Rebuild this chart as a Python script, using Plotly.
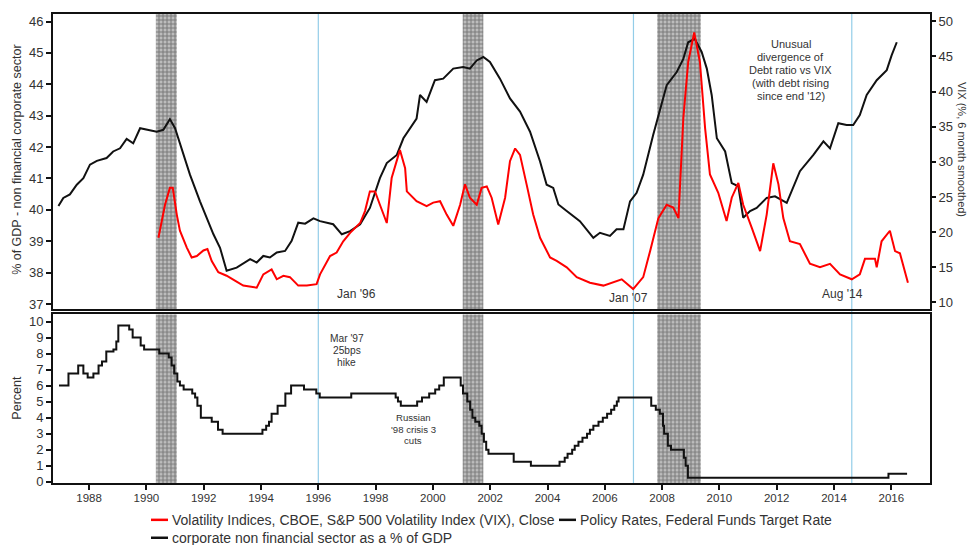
import plotly.graph_objects as go

# ---------------- data ----------------
# Debt of the corporate non financial sector, % of GDP (left axis, top panel)
debt_year = [1986.93, 1987.10, 1987.33, 1987.57, 1987.80, 1988.03, 1988.27, 1988.61, 1988.84, 1989.08,
             1989.31, 1989.54, 1989.78, 1990.01, 1990.36, 1990.59, 1990.82, 1991.00, 1991.29, 1991.52,
             1991.87, 1992.34, 1992.57, 1992.80, 1993.15, 1993.62, 1993.85, 1994.08, 1994.31, 1994.55,
             1994.84, 1995.07, 1995.30, 1995.54, 1995.83, 1996.06, 1996.52, 1996.82, 1997.11, 1997.46,
             1997.80, 1998.15, 1998.39, 1998.74, 1998.97, 1999.20, 1999.43, 1999.55, 1999.78, 2000.07,
             2000.36, 2000.71, 2001.06, 2001.29, 2001.53, 2001.76, 2001.99, 2002.34, 2002.69, 2003.04,
             2003.39, 2003.74, 2003.97, 2004.20, 2004.38, 2004.67, 2005.13, 2005.60, 2005.83, 2006.18,
             2006.41, 2006.65, 2006.88, 2007.11, 2007.34, 2007.69, 2007.92, 2008.16, 2008.51, 2008.74,
             2008.91, 2009.14, 2009.38, 2009.56, 2009.73, 2009.91, 2010.20, 2010.43, 2010.66, 2010.83,
             2011.07, 2011.30, 2011.65, 2011.94, 2012.35, 2012.81, 2013.28, 2013.63, 2013.86, 2014.15,
             2014.44, 2014.67, 2014.90, 2015.14, 2015.49, 2015.84, 2016.01, 2016.19]
debt_pct = [40.12, 40.38, 40.49, 40.80, 41.01, 41.44, 41.56, 41.65, 41.86, 41.96,
            42.26, 42.12, 42.60, 42.55, 42.49, 42.55, 42.89, 42.60, 41.75, 41.12,
            40.27, 39.22, 38.79, 38.06, 38.16, 38.43, 38.32, 38.53, 38.48, 38.64,
            38.69, 39.01, 39.59, 39.56, 39.73, 39.64, 39.54, 39.22, 39.32, 39.54,
            40.06, 41.01, 41.49, 41.75, 42.28, 42.60, 42.91, 43.66, 43.44, 44.13,
            44.18, 44.50, 44.55, 44.50, 44.76, 44.87, 44.71, 44.18, 43.55, 43.13,
            42.49, 41.54, 40.80, 40.70, 40.17, 39.96, 39.64, 39.11, 39.27, 39.17,
            39.38, 39.38, 40.27, 40.54, 41.12, 42.39, 43.13, 43.97, 44.39, 44.81,
            45.34, 45.45, 45.03, 44.50, 43.66, 42.28, 41.86, 40.85, 40.75, 39.75,
            39.96, 40.06, 40.38, 40.43, 40.22, 41.23, 41.75, 42.18, 41.96, 42.76,
            42.70, 42.70, 43.02, 43.66, 44.13, 44.45, 44.92, 45.34]

# VIX, 6 month smoothed (right axis, top panel)
vix_year = [1990.42, 1990.65, 1990.82, 1990.92, 1991.06, 1991.17, 1991.41, 1991.58, 1991.76, 1991.99,
            1992.13, 1992.28, 1992.51, 1992.80, 1993.09, 1993.38, 1993.85, 1994.08, 1994.37, 1994.55,
            1994.78, 1995.01, 1995.30, 1995.60, 1995.94, 1996.06, 1996.41, 1996.64, 1996.87, 1997.11,
            1997.46, 1997.63, 1997.80, 1997.98, 1998.15, 1998.39, 1998.56, 1998.85, 1999.03, 1999.09,
            1999.43, 1999.78, 2000.01, 2000.25, 2000.48, 2000.71, 2000.95, 2001.12, 2001.29, 2001.53,
            2001.70, 2001.88, 2002.05, 2002.28, 2002.52, 2002.69, 2002.87, 2003.04, 2003.27, 2003.50,
            2003.74, 2004.09, 2004.32, 2004.67, 2005.02, 2005.48, 2005.95, 2006.24, 2006.59, 2006.99,
            2007.34, 2007.58, 2007.87, 2008.16, 2008.39, 2008.57, 2008.74, 2008.91, 2009.12, 2009.32,
            2009.50, 2009.67, 2009.96, 2010.25, 2010.43, 2010.66, 2010.83, 2011.13, 2011.42, 2011.65,
            2011.88, 2012.06, 2012.23, 2012.46, 2012.81, 2013.16, 2013.51, 2013.86, 2014.21, 2014.62,
            2014.90, 2015.08, 2015.43, 2015.49, 2015.66, 2015.95, 2016.13, 2016.30, 2016.42, 2016.58]
vix_level = [19.2, 23.9, 26.3, 26.3, 22.5, 20.2, 17.8, 16.4, 16.6, 17.4,
             17.6, 15.9, 14.3, 13.8, 13.1, 12.4, 12.1, 14.0, 14.7, 13.3,
             13.8, 13.6, 12.4, 12.4, 12.6, 14.0, 16.6, 17.1, 18.7, 19.9,
             21.3, 23.0, 25.8, 25.8, 23.9, 21.3, 27.7, 31.7, 29.1, 25.8,
             24.4, 23.7, 24.2, 24.4, 22.5, 20.9, 23.9, 26.8, 24.9, 23.9,
             26.3, 26.5, 24.9, 21.1, 24.9, 30.1, 31.9, 31.0, 26.8, 22.5,
             19.2, 16.4, 15.9, 15.0, 13.6, 12.8, 12.4, 12.8, 13.3, 11.9,
             13.6, 17.3, 22.0, 23.9, 23.5, 22.0, 36.2, 44.2, 48.4, 44.2,
             34.8, 28.2, 25.6, 21.6, 24.9, 27.0, 23.9, 20.6, 17.3, 22.5,
             29.8, 26.8, 22.0, 18.7, 18.3, 15.5, 15.0, 15.5, 14.0, 13.3,
             14.0, 16.2, 16.2, 15.0, 18.7, 20.2, 17.3, 17.0, 15.2, 12.8]

# Federal Funds target rate, change dates and new levels (bottom panel)
ff_year = [1986.95, 1987.28, 1987.62, 1987.80, 1987.95, 1988.15, 1988.33, 1988.45, 1988.60, 1988.85,
           1988.95, 1989.02, 1989.40, 1989.52, 1989.80, 1989.92, 1990.45, 1990.78, 1990.88, 1990.97,
           1991.08, 1991.17, 1991.30, 1991.60, 1991.70, 1991.78, 1991.90, 1992.28, 1992.50, 1992.66,
           1994.05, 1994.18, 1994.28, 1994.37, 1994.58, 1994.85, 1995.05, 1995.50, 1995.93, 1996.05,
           1997.15, 1998.70, 1998.78, 1998.88, 1999.45, 1999.62, 1999.87, 2000.08, 2000.22, 2000.38,
           2000.97, 2001.05, 2001.20, 2001.30, 2001.38, 2001.48, 2001.62, 2001.70, 2001.78, 2001.86,
           2001.94, 2002.82, 2003.42, 2004.42, 2004.60, 2004.70, 2004.86, 2004.95, 2005.08, 2005.22,
           2005.38, 2005.48, 2005.60, 2005.78, 2005.93, 2006.08, 2006.22, 2006.33, 2006.42, 2006.48,
           2007.62, 2007.78, 2007.92, 2008.03, 2008.07, 2008.20, 2008.31, 2008.76, 2008.82, 2008.90,
           2015.90, 2016.55]
ff_rate = [6.00, 6.75, 7.25, 6.75, 6.50, 6.75, 7.25, 7.50, 8.13, 8.25,
           8.75, 9.75, 9.50, 9.00, 8.50, 8.25, 8.00, 7.75, 7.25, 6.75,
           6.25, 6.00, 5.75, 5.50, 5.25, 4.75, 4.00, 3.75, 3.25, 3.00,
           3.25, 3.50, 3.75, 4.25, 4.75, 5.50, 6.00, 5.75, 5.50, 5.25,
           5.50, 5.25, 5.00, 4.75, 5.00, 5.25, 5.50, 5.75, 6.00, 6.50,
           6.00, 5.50, 5.00, 4.50, 4.00, 3.75, 3.50, 3.00, 2.50, 2.00,
           1.75, 1.25, 1.00, 1.25, 1.50, 1.75, 2.00, 2.25, 2.50, 2.75,
           3.00, 3.25, 3.50, 3.75, 4.00, 4.25, 4.50, 4.75, 5.00, 5.25,
           4.75, 4.50, 4.25, 3.50, 3.00, 2.25, 2.00, 1.50, 1.00, 0.25,
           0.50, 0.50]

# Recession periods (shaded) and marked dates (blue rules)
rec_start = [1990.33, 2001.04, 2007.83]
rec_end = [1991.06, 2001.76, 2009.35]
event_year = [1996.0, 2007.0, 2014.62]
event_label = ["Jan '96", "Jan '07", "Aug '14"]
event_label_x = [1997.32, 2006.81, 2014.31]
event_label_y = [0.403, 0.395, 0.403]

x_ticks = list(range(1988, 2017, 2))
debt_ticks = list(range(37, 47))
vix_ticks = list(range(10, 51, 5))
ff_ticks = list(range(0, 11))

X_RANGE = [1986.74, 2017.35]
DEBT_RANGE = [36.84, 46.24]
VIX_RANGE = [9.07, 51.03]
FF_RANGE = [-0.08, 10.46]

FONT = "Liberation Sans, Arial, sans-serif"
TXT = "#333333"
RED = "#ff0000"

# plot-area geometry in pixels, used to place notes and the legend
W, PL, PB, PH = 877.0, 53.0, 483.0, 471.0


def px(xp):
    return (xp - PL) / W


def py(yp):
    return (PB - yp) / PH


fig = go.Figure()

# hatched recession bands, one polygon per panel
band_pattern = dict(shape="+", size=4, solidity=0.45, fgcolor="#3a3a3a", bgcolor="#bcbcbc")
for s, e in zip(rec_start, rec_end):
    for xa, ya, (lo, hi) in (("x2", "y", DEBT_RANGE), ("x", "y3", FF_RANGE)):
        fig.add_trace(go.Scatter(
            x=[s, s, e, e, s], y=[lo, hi, hi, lo, lo], xaxis=xa, yaxis=ya,
            mode="lines", fill="toself", fillpattern=band_pattern,
            fillcolor="rgba(0,0,0,0)", line=dict(width=0), hoverinfo="skip", showlegend=False))

fig.add_trace(go.Scatter(
    x=debt_year, y=debt_pct, xaxis="x2", yaxis="y", mode="lines",
    line=dict(color="#111111", width=2), name="corporate non financial sector as a % of GDP",
    showlegend=False))
fig.add_trace(go.Scatter(
    x=vix_year, y=vix_level, xaxis="x2", yaxis="y2", mode="lines",
    line=dict(color=RED, width=2), name="Volatility Indices, CBOE, S&P 500 Volatility Index (VIX), Close",
    showlegend=False))
fig.add_trace(go.Scatter(
    x=ff_year, y=ff_rate, xaxis="x", yaxis="y3", mode="lines", line_shape="hv",
    line=dict(color="#111111", width=2), name="Policy Rates, Federal Funds Target Rate",
    showlegend=False))

shapes = []
for ev in event_year:
    shapes.append(dict(type="line", xref="x", yref="paper", x0=ev, x1=ev, y0=0, y1=1,
                       line=dict(color="#93cde8", width=1.2), layer="below"))


def note(x, y, text, size, xref="x", yref="paper", angle=0):
    return dict(xref=xref, yref=yref, x=x, y=y, text=text, showarrow=False, textangle=angle,
                xanchor="center", yanchor="middle", align="center",
                font=dict(family=FONT, size=size, color=TXT))


def stacked(x, top_px, step_px, lines, size):
    # one annotation per line so the line pitch can be set independently of the font size
    return [note(x, py(top_px + i * step_px), ln, size) for i, ln in enumerate(lines)]


annotations = [note(lx, ly, lab, 12) for lx, ly, lab in zip(event_label_x, event_label_y, event_label)]
annotations += stacked(2012.49, 42.5, 12.9, ["Unusual", "divergence of", "Debt ratio vs VIX",
                                             "(with debt rising", "since end '12)"], 11)
annotations += stacked(1997.0, 338, 12.0, ["Mar '97", "25bps", "hike"], 10.2)
annotations += stacked(1999.31, 417.5, 11.3, ["Russian", "'98 crisis 3", "cuts"], 9.6)
annotations += [
    note(-0.0405, 0.690, "% of GDP - non financial corporate sector", 12.5, xref="paper", angle=-90),
    note(-0.0405, 0.183, "Percent", 12.5, xref="paper", angle=-90),
    note(px(961.5), py(148), "VIX (%, 6 month smoothed)", 11, xref="paper", angle=90),
]

# legend drawn as short line samples with labels under the plot
legend_items = [
    (151, 520, RED, "Volatility Indices, CBOE, S&P 500 Volatility Index (VIX), Close"),
    (559, 520, "#111111", "Policy Rates, Federal Funds Target Rate"),
    (151, 538, "#111111", "corporate non financial sector as a % of GDP"),
]
for x0, y0, col, lab in legend_items:
    shapes.append(dict(type="line", xref="paper", yref="paper", x0=px(x0), x1=px(x0 + 17),
                       y0=py(y0), y1=py(y0), line=dict(color=col, width=2.5)))
    annotations.append(dict(xref="paper", yref="paper", x=px(x0 + 19), y=py(y0), text=lab,
                            xanchor="left", yanchor="middle", showarrow=False,
                            font=dict(family=FONT, size=14, color=TXT)))

axis_common = dict(showgrid=False, zeroline=False, showline=True, linecolor="#111111",
                   linewidth=2, ticks="outside", ticklen=5, tickwidth=1.5, tickcolor="#111111",
                   tickfont=dict(family=FONT, size=13, color=TXT))

fig.update_layout(
    width=969, height=545,
    margin=dict(l=53, r=39, t=12, b=62),
    paper_bgcolor="white", plot_bgcolor="white",
    showlegend=False,
    xaxis=dict(axis_common, domain=[0, 1], anchor="y3", range=X_RANGE, tickvals=x_ticks,
               mirror=True, ticklabelstandoff=-2, tickfont=dict(family=FONT, size=11.5, color=TXT)),
    xaxis2=dict(axis_common, domain=[0, 1], anchor="y", range=X_RANGE, matches="x",
                showticklabels=False, ticks="", mirror=True),
    yaxis=dict(axis_common, domain=[0.371, 1], anchor="x2", range=DEBT_RANGE,
               tickvals=debt_ticks, mirror=True),
    yaxis2=dict(axis_common, overlaying="y", side="right", anchor="x2", range=VIX_RANGE,
                tickvals=vix_ticks, showline=False),
    yaxis3=dict(axis_common, domain=[0, 0.360], anchor="x", range=FF_RANGE,
                tickvals=ff_ticks, mirror=True),
    shapes=shapes,
    annotations=annotations,
)

fig.write_html("out.html")
